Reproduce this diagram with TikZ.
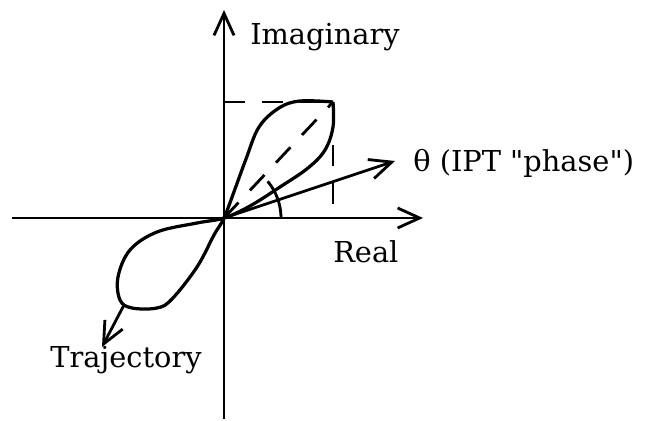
\documentclass[tikz,border=0pt]{standalone}
\usepackage{fontspec}
\newfontfamily\labelfont{DejaVu Serif}
\usetikzlibrary{arrows.meta}

\begin{document}
\begin{tikzpicture}[
  x=0.025cm, y=0.025cm,
  axis/.style={line width=2pt, -{Straight Barb[length=5.5mm, width=5mm, line width=2pt]}},
  guide/.style={line width=2pt, dash pattern=on 15pt off 12pt},
  curve/.style={line width=2.3pt, line join=round},
  lbl/.style={font=\labelfont\fontsize{20.5}{24}\selectfont, inner sep=0pt, anchor=base west}
]
\useasboundingbox (0,0) rectangle (645,421);

% reference points
\coordinate (O) at (224,203);
\coordinate (corner) at (333,319);
\coordinate (imtip) at (224,411);
\coordinate (imfoot) at (224,2);
\coordinate (retip) at (423,203);
\coordinate (refoot) at (12,203);
\coordinate (phtip) at (395,260);
\coordinate (trstart) at (124,116);
\coordinate (trtip) at (102,74);

% axes
\draw[axis] (imfoot) -- (imtip);
\draw[axis] (refoot) -- (retip);

% dashed box and diagonal
\draw[guide] (224,319) -- (corner) -- (333,210);
\draw[guide] (O) -- (corner);

% phase vector and angle
\draw[axis] (O) -- (phtip);
\draw[line width=2pt] (O) ++(1.425cm,0) arc[start angle=0, end angle=40, radius=1.425cm];

% trajectory
\draw[curve] plot[smooth, tension=0.6] coordinates {
  (corner) (333,294) (325,271) (308,253) (280,234) (250,215) (O)
  (197,198) (157,189) (130,171) (118,144) (120,121) (132,113) (157,113)
  (172,122) (197,154) (214,186) (O) (235,232) (246,262) (259,294)
  (279,313) (300,320) (corner)};
\draw[axis] (trstart) -- (trtip);

% labels
\node[lbl] (imag) at (250,376) {Imaginary};
\node[lbl] (phase) at (413,249) {θ (IPT \textquotedbl phase\textquotedbl)};
\node[lbl] (real) at (333,158) {Real};
\node[lbl] (traj) at (50,53) {Trajectory};
\end{tikzpicture}
\end{document}
